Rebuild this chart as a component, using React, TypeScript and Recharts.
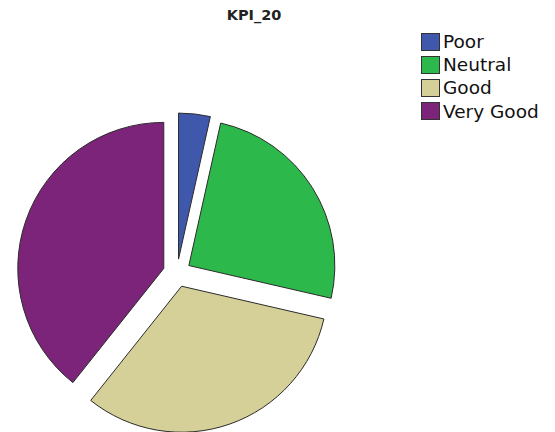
import React from "react";
import { PieChart, Pie, Cell, Sector, Legend } from "recharts";

const categories = ["Poor", "Neutral", "Good", "Very Good"];
const percentValues = [3.5, 25.1, 32.1, 39.3];
const colors = ["#3F58AC", "#2DB84B", "#D5D098", "#7C2479"];
const title = "KPI_20";

const data = categories.map((name, i) => ({ name, value: percentValues[i] }));

const RADIAN = Math.PI / 180;
const EXPLODE = 14;

const ExplodedSector = (props: any) => {
  const { cx, cy, midAngle, innerRadius, outerRadius, startAngle, endAngle, fill } = props;
  const dx = EXPLODE * Math.cos(-midAngle * RADIAN);
  const dy = EXPLODE * Math.sin(-midAngle * RADIAN);
  return (
    <Sector
      cx={cx + dx}
      cy={cy + dy}
      innerRadius={innerRadius}
      outerRadius={outerRadius}
      startAngle={startAngle}
      endAngle={endAngle}
      fill={fill}
      stroke="#2b2b2b"
      strokeWidth={1}
    />
  );
};

const LegendContent = () => (
  <div style={{ fontFamily: "DejaVu Sans, sans-serif", fontSize: 18.5, color: "#111" }}>
    {categories.map((c, i) => (
      <div key={c} style={{ display: "flex", alignItems: "center", height: 23.2 }}>
        <div
          style={{
            width: 17,
            height: 16,
            background: colors[i],
            border: "1px solid #333",
            marginRight: 3,
          }}
        />
        <span style={{ lineHeight: "23px" }}>{c}</span>
      </div>
    ))}
  </div>
);

export default function App() {
  return (
    <div style={{ position: "absolute", left: 0, top: 0, width: 555, height: 432, background: "#fff" }}>
      <div
        style={{
          position: "absolute",
          left: 154,
          top: 7,
          width: 200,
          textAlign: "center",
          fontFamily: "DejaVu Sans, sans-serif",
          fontWeight: "bold",
          fontSize: 14.5,
          color: "#222",
          zIndex: 2,
        }}
      >
        {title}
      </div>
      <PieChart width={555} height={432} margin={{ top: 0, right: 0, bottom: 0, left: 0 }}>
        <Pie
          data={data}
          dataKey="value"
          nameKey="name"
          cx={177}
          cy={273}
          outerRadius={146}
          startAngle={90}
          endAngle={-270}
          isAnimationActive={false}
          shape={ExplodedSector}
          activeShape={ExplodedSector}
          inactiveShape={ExplodedSector}
          stroke="#2b2b2b"
        >
          {data.map((d, i) => (
            <Cell key={d.name} fill={colors[i]} />
          ))}
        </Pie>
        <Legend
          content={LegendContent}
          wrapperStyle={{ position: "absolute", left: 421, top: 30, width: 134 }}
        />
      </PieChart>
    </div>
  );
}
